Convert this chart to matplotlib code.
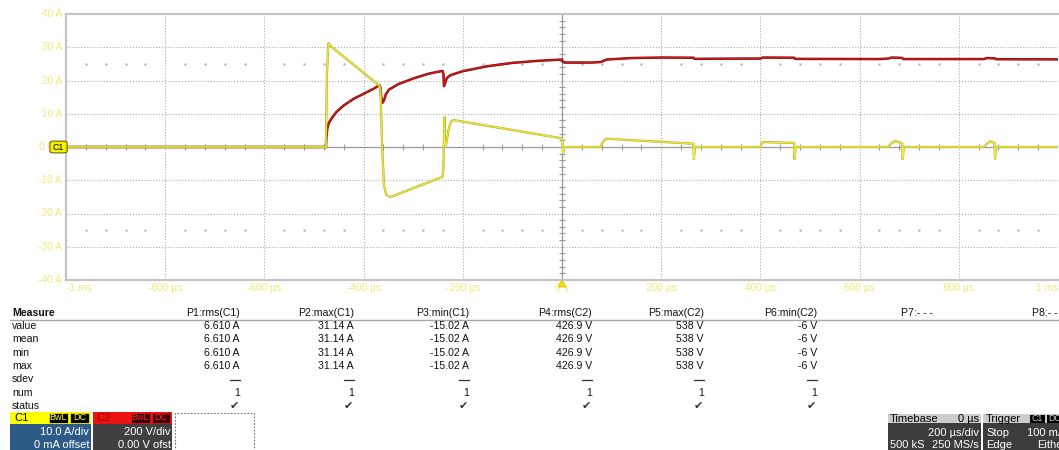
import numpy as np
import matplotlib.pyplot as plt
from matplotlib.patches import Rectangle, FancyBboxPatch, Polygon
from matplotlib.lines import Line2D

plt.rcParams['font.family'] = ['Liberation Sans', 'DejaVu Sans']

W, H = 1059, 450

# ---- waveform data: time in microseconds ----
c1_time = [-1000, -476, -474, -471, -468, -465, -368, -366, -363, -359, -354, -347, -340,
           -241, -239, -238, -237, -236, -234, -229, -224, -219, 0, 1, 2, 4, 7,
           78, 82, 88, 265, 266, 268,
           400, 403, 408, 468, 469, 471,
           658, 664, 672, 686, 687, 689,
           851, 857, 864, 872, 873, 875, 1000]
c1_amps = [0, 0, 22, 31.14, 30.8, 30.2, 18.4, 17.0, 2.0, -11.5, -14.4, -15.02, -14.7,
           -9.0, -6.0, 3.0, 9.0, 1.0, 0.5, 5.0, 7.6, 8.1, 2.6, 2.2, -1.9, -0.6, 0,
           0, 1.4, 2.5, 1.0, -3.6, 0,
           0, 1.3, 1.5, 1.2, -3.6, 0,
           0, 1.2, 1.8, 1.1, -3.6, 0,
           0, 1.1, 1.7, 1.2, -3.6, 0, 0]

c2_time = [-1000, -476, -475, -473, -470, -465, -455, -440, -420, -400, -380, -368,
           -366, -364, -362, -359, -355, -349, -330, -300, -270, -241,
           -239, -238, -236, -232, -225, -200, -150, -100, -50, 0,
           2, 5, 60, 78, 90, 140, 200, 265, 267, 300, 400, 405, 468, 470,
           640, 658, 664, 686, 688, 851, 856, 873, 875, 1000]
c2_volts = [0, 0, 60, 115, 145, 170, 210, 250, 290, 320, 350, 372,
            355, 285, 266, 280, 318, 345, 378, 412, 440, 458,
            440, 366, 382, 415, 432, 456, 486, 506, 518, 526,
            512, 508, 508, 511, 526, 535, 538, 537, 530, 531, 532, 538, 537, 530,
            529, 532, 538, 536, 529, 529, 535, 533, 528, 527]

y_ticks = [40, 30, 20, 10, 0, -10, -20, -30, -40]
y_labels = ['40 A', '30 A', '20 A', '10 A', '0.0 A', '-10 A', '-20 A', '-30 A', '-40 A']
x_ticks = [-1000, -800, -600, -400, -200, 0, 200, 400, 600, 800, 1000]
x_labels = ['-1 ms', '-800 µs', '-600 µs', '-400 µs', '-200 µs', '0 s',
            '200 µs', '400 µs', '600 µs', '800 µs', '1 ms']

# ---- measurement table ----
row_names = ['value', 'mean', 'min', 'max', 'sdev', 'num', 'status']
col_heads = ['P1:rms(C1)', 'P2:max(C1)', 'P3:min(C1)', 'P4:rms(C2)',
             'P5:max(C2)', 'P6:min(C2)', 'P7:- - -', 'P8:- - -']
p1_values = ['6.610 A', '6.610 A', '6.610 A', '6.610 A', '---', '1', '✔']
p2_values = ['31.14 A', '31.14 A', '31.14 A', '31.14 A', '---', '1', '✔']
p3_values = ['-15.02 A', '-15.02 A', '-15.02 A', '-15.02 A', '---', '1', '✔']
p4_values = ['426.9 V', '426.9 V', '426.9 V', '426.9 V', '---', '1', '✔']
p5_values = ['538 V', '538 V', '538 V', '538 V', '---', '1', '✔']
p6_values = ['-6 V', '-6 V', '-6 V', '-6 V', '---', '1', '✔']
col_values = [p1_values, p2_values, p3_values, p4_values, p5_values, p6_values]


def fx(x):
    return x / W


def fy(y):
    return 1 - y / H


def ftext(x, y, s, **kw):
    kw.setdefault('fontsize', 7.6)
    kw.setdefault('va', 'center')
    fig.text(fx(x), fy(y), s, **kw)


def frect(x0, y0, x1, y1, **kw):
    fig.patches.append(Rectangle((fx(x0), fy(y1)), (x1 - x0) / W, (y1 - y0) / H,
                                 transform=fig.transFigure, **kw))


fig = plt.figure(figsize=(W / 100, H / 100), dpi=100)
fig.patch.set_facecolor('white')

ax_l, ax_r, ax_t, ax_b = 66, 1058, 14, 280
ax = fig.add_axes([fx(ax_l), fy(ax_b), (ax_r - ax_l) / W, (ax_b - ax_t) / H])
ax.set_xlim(-1000, 1000)
ax.set_ylim(-40, 40)
ax.set_xticks([])
ax.set_yticks([])
for side in ['left', 'top', 'bottom']:
    ax.spines[side].set_color('#c4c4c4')
    ax.spines[side].set_linewidth(1.6)
ax.spines['right'].set_visible(False)

grid_kw = dict(color='#ababab', lw=0.8, ls=(0, (1, 1.6)), zorder=1)
for t in x_ticks[1:-1]:
    if t != 0:
        ax.axvline(t, **grid_kw)
for v in y_ticks[1:-1]:
    if v != 0:
        ax.axhline(v, **grid_kw)
ax.axhline(0, color='#9a9a9a', lw=0.9, zorder=1)
ax.axvline(0, color='#9a9a9a', lw=0.9, zorder=1)

minor_t = [t for t in np.arange(-960, 1000, 40) if t % 200 != 0]
ax.plot(minor_t, [0] * len(minor_t), ls='none', marker='|', ms=4,
        mew=0.8, color='#9a9a9a', zorder=1)
minor_v = [v for v in np.arange(-38, 40, 2) if v % 10 != 0]
ax.plot([0] * len(minor_v), minor_v, ls='none', marker='_', ms=4,
        mew=0.8, color='#9a9a9a', zorder=1)
for lvl in (25, -25):
    ax.plot(minor_t, [lvl] * len(minor_t), ls='none', marker='.', ms=1.6,
            color='#b8b8b8', zorder=1)

# voltage trace on its own scale (200 V/div)
ax2 = ax.twinx()
ax2.set_ylim(-800, 800)
ax2.axis('off')
ax2.plot(c2_time, c2_volts, color='#7a0a0a', lw=1.8, zorder=3,
         solid_joinstyle='round')
ax2.plot(c2_time, c2_volts, color='#d01818', lw=1.0, zorder=4,
         solid_joinstyle='round')

# current trace
ax3 = ax.twinx()
ax3.set_ylim(-40, 40)
ax3.axis('off')
ax3.plot(c1_time, c1_amps, color='#aaa420', lw=1.6, zorder=5,
         solid_joinstyle='round')
ax3.plot(c1_time, c1_amps, color='#eee63a', lw=1.0, zorder=6,
         solid_joinstyle='round')

tick_col = '#ecec7a'
for v, lab in zip(y_ticks, y_labels):
    ax.text(-4 / (ax_r - ax_l), v, lab, transform=ax.get_yaxis_transform(),
            ha='right', va='center', fontsize=7.3, color=tick_col)
for t, lab in zip(x_ticks, x_labels):
    ha = 'center'
    if t == x_ticks[0]:
        ha = 'left'
    elif t == x_ticks[-1]:
        ha = 'right'
    ax.text(t, -8 / (ax_b - ax_t), lab, transform=ax.get_xaxis_transform(),
            ha=ha, va='center', fontsize=7.3, color=tick_col, clip_on=False)

# trigger position arrow
fig.patches.append(Polygon([[fx(558), fy(287)], [fx(566), fy(287)], [fx(562), fy(280)]],
                           closed=True, transform=fig.transFigure,
                           facecolor='#f0e400', edgecolor='#c8b800', lw=0.5))

# channel 1 ground marker
fig.patches.append(FancyBboxPatch((fx(52), fy(152)), 13 / W, 10 / H,
                                  boxstyle='round,pad=0.002,rounding_size=0.004',
                                  transform=fig.transFigure,
                                  facecolor='#f2f000', edgecolor='#6e6a00', lw=0.8))
ftext(58.5, 147, 'C1', fontsize=6.3, ha='center', color='black')

# ---- measurement table ----
ftext(12, 313, 'Measure', fontweight='bold', ha='left', color='#111111')
fig.add_artist(Line2D([fx(10), fx(1059)], [fy(319.5), fy(319.5)],
                      transform=fig.transFigure, color='#a8a8a8', lw=1.0))
col_right = [240, 354, 469, 592, 704, 817]
for x, head, vals in zip(col_right, col_heads, col_values):
    ftext(x, 313, head, ha='right', color='#111111')
    for i, val in enumerate(vals):
        y = 326 + i * 13.3
        if val == '✔':
            ftext(x - 1, y + 0.5, val, ha='right', fontsize=8, color='#303030')
        elif val == '---':
            fig.add_artist(Line2D([fx(x - 10), fx(x)], [fy(y + 1), fy(y + 1)],
                                  transform=fig.transFigure, color='#333333', lw=0.9))
        else:
            ftext(x, y, val, ha='right', color='#111111')
ftext(933, 313, col_heads[6], ha='right', color='#111111')
ftext(1064, 313, col_heads[7], ha='right', color='#111111')
for i, name in enumerate(row_names):
    ftext(12, 326 + i * 13.3, name, ha='left', color='#111111')

# ---- channel descriptor boxes ----
frect(10, 412, 91, 424, facecolor='#ffff00', edgecolor='none')
frect(10, 424, 91, 452, facecolor='#2b5b86', edgecolor='none')
ftext(14, 418, 'C1', ha='left', fontsize=8, color='black')
frect(49, 413, 68, 423, facecolor='black', edgecolor='#ffff00', lw=0.5)
ftext(58.5, 418, 'BwL', ha='center', fontsize=6.5, color='#ffff40')
frect(70, 413, 89, 423, facecolor='black', edgecolor='#ffff00', lw=0.5)
ftext(79.5, 418, 'DC', ha='center', fontsize=6.5, color='#ffff40')
ftext(89, 432, '10.0 A/div', ha='right', fontsize=8, color='white')
ftext(89, 445, '0 mA offset', ha='right', fontsize=8, color='white')

frect(93, 412, 172, 424, facecolor='#ee1111', edgecolor='none')
frect(93, 424, 172, 452, facecolor='#404040', edgecolor='none')
ftext(96, 418, 'C2', ha='left', fontsize=8, color='#a00000')
frect(131, 413, 150, 423, facecolor='#3a0000', edgecolor='#ee1111', lw=0.5)
ftext(140.5, 418, 'BwL', ha='center', fontsize=6.5, color='#ee2222')
frect(152, 413, 170, 423, facecolor='#3a0000', edgecolor='#ee1111', lw=0.5)
ftext(161, 418, 'DC', ha='center', fontsize=6.5, color='#ee2222')
ftext(171, 432, '200 V/div', ha='right', fontsize=8, color='white')
ftext(171, 445, '0.00 V ofst', ha='right', fontsize=8, color='white')

frect(175, 412.5, 254, 452, facecolor='white', edgecolor='#707070', lw=0.8,
      ls=(0, (1.5, 1.5)))

# ---- timebase / trigger boxes ----
frect(888, 414, 981, 423, facecolor='#cccccc', edgecolor='none')
frect(888, 423, 981, 452, facecolor='#3c3c3c', edgecolor='none')
ftext(890, 418.5, 'Timebase', ha='left', fontsize=8, color='black')
ftext(979, 418.5, '0 µs', ha='right', fontsize=8, color='black')
ftext(979, 433, '200 µs/div', ha='right', fontsize=8, color='white')
ftext(890, 444.5, '500 kS', ha='left', fontsize=8, color='white')
ftext(979, 444.5, '250 MS/s', ha='right', fontsize=8, color='white')

frect(983, 414, 1059, 423, facecolor='#cccccc', edgecolor='none')
frect(983, 423, 1059, 452, facecolor='#3c3c3c', edgecolor='none')
ftext(986, 418.5, 'Trigger', ha='left', fontsize=8, color='black')
frect(1030, 414.5, 1045, 422.5, facecolor='black', edgecolor='none')
ftext(1037.5, 418.5, 'C1', ha='center', fontsize=6.3, color='#cccccc')
frect(1047, 414.5, 1062, 422.5, facecolor='black', edgecolor='none')
ftext(1054.5, 418.5, 'DC', ha='center', fontsize=6.3, color='#cccccc')
ftext(986, 433, 'Stop', ha='left', fontsize=8, color='white')
ftext(1065, 433, '100 mA', ha='right', fontsize=8, color='white')
ftext(986, 444.5, 'Edge', ha='left', fontsize=8, color='white')
ftext(1066, 444.5, 'Either', ha='right', fontsize=8, color='white')

fig.savefig('out.png', dpi=100, facecolor='white')
